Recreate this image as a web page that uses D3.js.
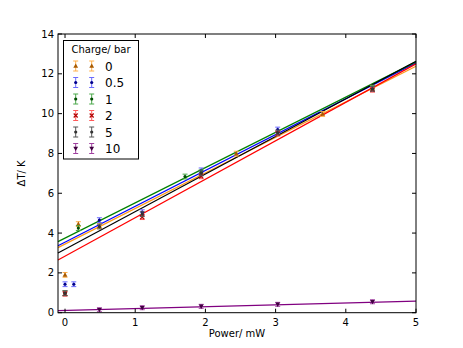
<!DOCTYPE html>
<html><head><meta charset="utf-8">
<script src="https://cdn.jsdelivr.net/npm/d3@7"></script>
<style>body{margin:0;background:#fff}svg{display:block;font-family:"DejaVu Sans",sans-serif}</style>
</head><body>
<svg id="c" width="463" height="348"></svg>
<script>
const charges = ["0","0.5","1","2","5","10"];
const lineColors = ["#ff9a1a","#0000ff","#008000","#ff0000","#000000","#800080"];
const errColors = ["#ffb04a","#6a6aff","#4aa84a","#ff5a5a","#555555","#a040a0"];
const markerColors = ["#a85a00","#00008b","#004d00","#b00000","#333333","#400040"];
const markerShapes = ["triUp","dot","dot","cross","dot","triDown"];
const xVals = [
  [0, 0.19, 0.49, 2.44, 3.67, 4.38],
  [0, 0.125, 0.49, 1.1, 1.94, 3.03, 4.38],
  [0, 0.19, 1.71, 1.94, 4.38],
  [0, 1.1, 1.94, 3.03, 4.38],
  [0, 0.49, 1.1, 1.94, 3.03, 4.38],
  [0.49, 1.1, 1.94, 3.03, 4.38]
];
const yVals = [
  [1.9, 4.45, 4.35, 7.99, 9.98, 11.3],
  [1.43, 1.43, 4.65, 5.05, 7.15, 9.2, 11.25],
  [0.98, 4.25, 6.84, 7.05, 11.3],
  [0.95, 4.8, 6.85, 9.0, 11.2],
  [0.98, 4.33, 4.95, 7.0, 9.05, 11.25],
  [0.15, 0.25, 0.32, 0.42, 0.55]
];
const yErr = [0.12, 0.12, 0.12, 0.12, 0.12, 0.1];
// fitted line: value at x = -0.1 and at x = 5
const fitX = [-0.1, 5];
const fitStart = [3.27, 3.36, 3.57, 2.65, 3.0, 0.1];
const fitEnd = [12.38, 12.55, 12.6, 12.5, 12.63, 0.58];
const xTicks = [0,1,2,3,4,5];
const yTicks = [0,2,4,6,8,10,12,14];

const svg = d3.select("#c");
const L=58, R=416, T=34, B=312.7;
const x = d3.scaleLinear().domain([-0.1,5]).range([L,R]);
const y = d3.scaleLinear().domain([0,14]).range([B,T]);

const plot = svg.append("g");
// lines
charges.forEach((c,i)=>{
  plot.append("line").attr("x1",x(fitX[0])).attr("x2",x(fitX[1]))
    .attr("y1",y(fitStart[i])).attr("y2",y(fitEnd[i]))
    .attr("stroke",lineColors[i]).attr("stroke-width",1.2);
});
function drawMarker(g, shape, cx, cy, col){
  if(shape==="triUp"){
    g.append("path").attr("d",`M${cx},${cy-2.6}L${cx+2.4},${cy+1.8}L${cx-2.4},${cy+1.8}Z`).attr("fill",col);
  } else if(shape==="triDown"){
    g.append("path").attr("d",`M${cx},${cy+2.6}L${cx+2.4},${cy-1.8}L${cx-2.4},${cy-1.8}Z`).attr("fill",col);
  } else if(shape==="cross"){
    g.append("path").attr("d",`M${cx-2},${cy-2}L${cx+2},${cy+2}M${cx-2},${cy+2}L${cx+2},${cy-2}`).attr("stroke",col).attr("stroke-width",1.2);
  } else {
    g.append("circle").attr("cx",cx).attr("cy",cy).attr("r",1.6).attr("fill",col);
  }
}
function drawErr(g, cx, y1, y2, col){
  g.append("line").attr("x1",cx).attr("x2",cx).attr("y1",y1).attr("y2",y2).attr("stroke",col).attr("stroke-width",1);
  g.append("line").attr("x1",cx-2.5).attr("x2",cx+2.5).attr("y1",y1).attr("y2",y1).attr("stroke",col).attr("stroke-width",1);
  g.append("line").attr("x1",cx-2.5).attr("x2",cx+2.5).attr("y1",y2).attr("y2",y2).attr("stroke",col).attr("stroke-width",1);
}
charges.forEach((c,i)=>{
  xVals[i].forEach((xv,j)=>{
    const yv=yVals[i][j];
    drawErr(plot, x(xv), y(yv+yErr[i]), y(yv-yErr[i]), errColors[i]);
    drawMarker(plot, markerShapes[i], x(xv), y(yv), markerColors[i]);
  });
});
// frame
svg.append("rect").attr("x",L).attr("y",T).attr("width",R-L).attr("height",B-T)
  .attr("fill","none").attr("stroke","#000").attr("stroke-width",1);
// ticks
const ax = svg.append("g").attr("font-size",10).attr("fill","#000");
xTicks.forEach(t=>{
  const px=x(t);
  ax.append("line").attr("x1",px).attr("x2",px).attr("y1",B).attr("y2",B-4).attr("stroke","#000");
  ax.append("line").attr("x1",px).attr("x2",px).attr("y1",T).attr("y2",T+4).attr("stroke","#000");
  ax.append("text").attr("x",px).attr("y",B+13).attr("text-anchor","middle").text(t);
});
yTicks.forEach(t=>{
  const py=y(t);
  ax.append("line").attr("x1",L).attr("x2",L+4).attr("y1",py).attr("y2",py).attr("stroke","#000");
  ax.append("line").attr("x1",R).attr("x2",R-4).attr("y1",py).attr("y2",py).attr("stroke","#000");
  ax.append("text").attr("x",L-4).attr("y",py+3.6).attr("text-anchor","end").text(t);
});
svg.append("text").attr("x",(L+R)/2).attr("y",337).attr("text-anchor","middle").attr("font-size",10).text("Power/ mW");
svg.append("text").attr("transform",`translate(25,${(T+B)/2}) rotate(-90)`).attr("text-anchor","middle").attr("font-size",10).text("ΔT/ K");
// legend
const lg = svg.append("g");
lg.append("rect").attr("x",63.5).attr("y",40.5).attr("width",75).attr("height",118.5).attr("fill","#fff").attr("stroke","#000").attr("stroke-width",1);
lg.append("text").attr("x",101).attr("y",53).attr("text-anchor","middle").attr("font-size",10).text("Charge/ bar");
charges.forEach((c,i)=>{
  const cy = 66 + i*16.5;
  [75.7, 91.7].forEach(mx=>{
    drawErr(lg, mx, cy-5, cy+5, errColors[i]);
    drawMarker(lg, markerShapes[i], mx, cy, markerColors[i]);
  });
  lg.append("text").attr("x",105).attr("y",cy+4.5).attr("font-size",12).text(c);
});
</script>
</body></html>
